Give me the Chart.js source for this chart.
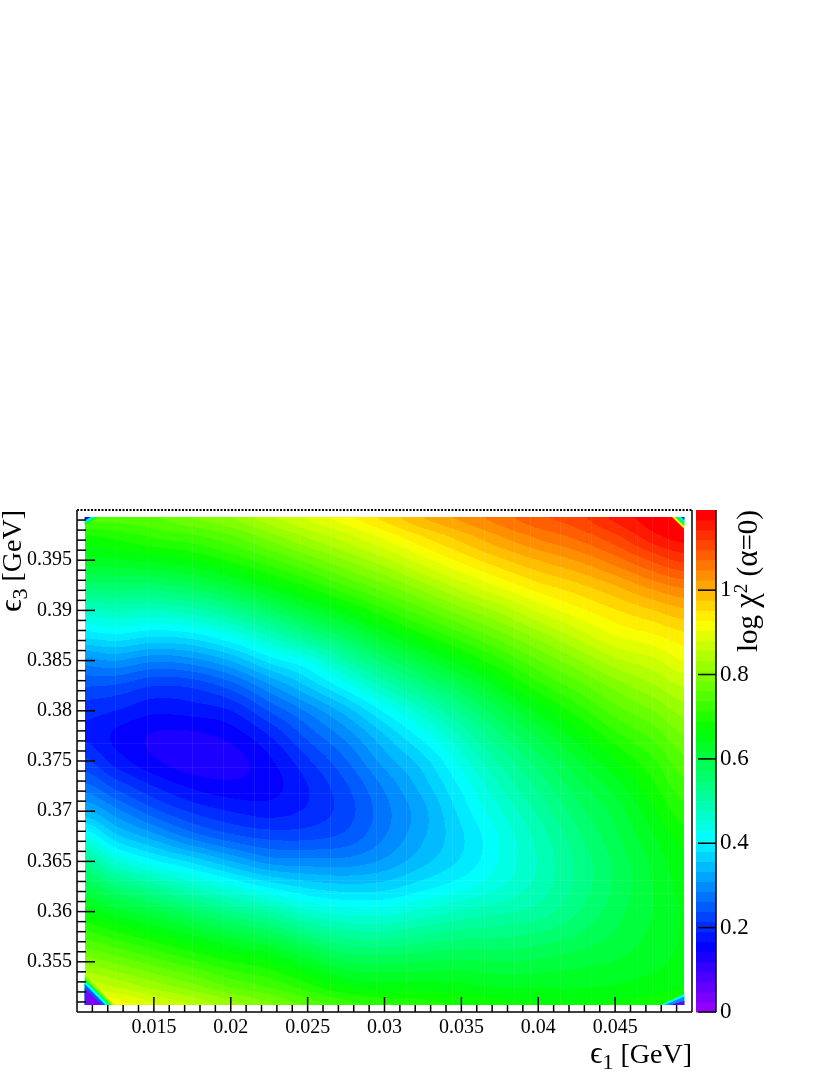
<!DOCTYPE html>
<html>
<head>
<meta charset="utf-8">
<title>log chi2 map</title>
<script src="https://cdn.jsdelivr.net/npm/chart.js@4"></script>
<style>
  html, body { margin: 0; padding: 0; background: #fff; }
  #box { width: 830px; height: 1075px; }
</style>
</head>
<body>
<div id="box"><canvas id="mapa"></canvas></div>
<script>
// Wezly siatki
const xGrid = [0.0105, 0.0125, 0.015, 0.0175, 0.02, 0.0225, 0.025, 0.0275, 0.03, 0.0325, 0.035, 0.0375, 0.04, 0.0425, 0.045, 0.0475, 0.0495];
const yGrid = [0.3993, 0.3975, 0.395, 0.3925, 0.39, 0.3875, 0.385, 0.3825, 0.38, 0.3775, 0.375, 0.3725, 0.37, 0.3675, 0.365, 0.3625, 0.36, 0.3575, 0.355, 0.3525, 0.3507];

// log chi2 - jedna lista na kolumne xGrid, od gory do dolu (yGrid)
const zColumns = [
  [.75,.69,.635,.56,.47,.39,.30,.24,.20,.187,.22,.27,.34,.43,.52,.59,.66,.73,.80,.88,.94],
  [.75,.70,.64,.565,.48,.40,.31,.235,.19,.162,.18,.23,.295,.365,.455,.55,.63,.705,.78,.855,.92],
  [.76,.72,.65,.565,.475,.385,.29,.215,.172,.14,.147,.19,.245,.32,.41,.51,.60,.675,.75,.825,.885],
  [.785,.735,.665,.585,.49,.395,.30,.22,.177,.137,.127,.162,.21,.275,.375,.47,.565,.645,.72,.795,.855],
  [.81,.76,.695,.615,.525,.43,.335,.25,.19,.152,.132,.15,.19,.245,.335,.435,.53,.615,.69,.76,.82],
  [.85,.80,.73,.655,.57,.48,.39,.305,.24,.19,.162,.157,.18,.23,.30,.40,.50,.59,.67,.735,.79],
  [.885,.84,.77,.695,.615,.53,.43,.36,.29,.245,.21,.19,.195,.23,.295,.375,.46,.55,.63,.70,.755],
  [.92,.875,.81,.74,.66,.58,.50,.42,.345,.295,.26,.235,.227,.245,.295,.365,.44,.52,.595,.665,.725],
  [.96,.915,.85,.78,.71,.635,.56,.485,.41,.355,.32,.29,.277,.285,.315,.37,.44,.515,.59,.655,.705],
  [1.0,.955,.895,.825,.755,.685,.61,.54,.47,.415,.37,.345,.326,.33,.35,.395,.46,.53,.595,.655,.70],
  [1.03,.99,.935,.87,.80,.73,.66,.59,.53,.48,.44,.41,.39,.377,.385,.42,.48,.54,.60,.65,.685],
  [1.06,1.025,.97,.91,.84,.775,.71,.65,.59,.545,.505,.475,.45,.43,.43,.45,.495,.545,.595,.64,.675],
  [1.09,1.055,1.0,.945,.885,.82,.76,.705,.65,.60,.56,.53,.505,.485,.478,.485,.51,.555,.60,.64,.67],
  [1.11,1.08,1.025,.97,.92,.865,.805,.75,.70,.655,.615,.585,.56,.54,.528,.53,.545,.575,.61,.64,.67],
  [1.15,1.115,1.06,1.0,.95,.905,.85,.795,.75,.705,.665,.63,.605,.59,.577,.575,.585,.60,.62,.645,.67],
  [1.18,1.16,1.10,1.035,.975,.925,.875,.83,.785,.745,.71,.685,.66,.64,.625,.62,.62,.625,.635,.655,.68],
  [1.19,1.18,1.125,1.055,.995,.945,.905,.86,.82,.785,.755,.73,.705,.68,.66,.65,.645,.645,.65,.665,.685]
];

// Narozniki siatki: [x, y, ramie x, ramie y, z] - od najwiekszego do najmniejszego
const cornerTriangles = [
  [0.0105, 0.3507, 0.00190, 0.00300, 0.80],
  [0.0105, 0.3507, 0.00170, 0.00265, 0.60],
  [0.0105, 0.3507, 0.00155, 0.00240, 0.42],
  [0.0105, 0.3507, 0.00135, 0.00210, 0.24],
  [0.0105, 0.3507, 0.00110, 0.00165, 0.03],
  [0.0495, 0.3507, -0.00155, 0.00110, 0.42],
  [0.0495, 0.3507, -0.00130, 0.00085, 0.30],
  [0.0495, 0.3507, -0.00095, 0.00040, 0.05],
  [0.0105, 0.3993, 0.00090, -0.00080, 0.62],
  [0.0105, 0.3993, 0.00065, -0.00060, 0.40],
  [0.0105, 0.3993, 0.00040, -0.00035, 0.18],
  [0.0495, 0.3993, -0.00080, -0.00120, 0.90],
  [0.0495, 0.3993, -0.00060, -0.00090, 0.60],
  [0.0495, 0.3993, -0.00040, -0.00060, 0.40],
  [0.0495, 0.3993, -0.00020, -0.00030, 0.18]
];

// Jasne szwy widoczne na mapie
const xSeams = [0.01247, 0.01455, 0.01747, 0.01948, 0.02149, 0.02247, 0.02442, 0.02643, 0.02942, 0.03143, 0.03442, 0.03649, 0.03844, 0.03948, 0.04143, 0.04344, 0.04643, 0.0474, 0.04844];
const ySeams = [0.37679, 0.3744, 0.37181, 0.36315, 0.36185, 0.36066];

// Podzialki
const xMajorTicks = [0.015, 0.02, 0.025, 0.03, 0.035, 0.04, 0.045];
const yMajorTicks = [0.355, 0.36, 0.365, 0.37, 0.375, 0.38, 0.385, 0.39, 0.395];
const zMajorTicks = [0, 0.2, 0.4, 0.6, 0.8, 1];
const xMinorStep = 0.001;
const yMinorStep = 0.001;

const X_MIN = 0.01, X_MAX = 0.05, Y_MIN = 0.35, Y_MAX = 0.4, Z_MAX = 1.19;
const PALETTE_LEVELS = 50;
const SERIF = '"Liberation Serif", "Times New Roman", serif';

// Paleta ROOT "pretty": 50 pasm od fioletu do czerwieni
function bandColor(z) {
  let i = Math.floor(z / Z_MAX * PALETTE_LEVELS);
  if (i < 0) i = 0;
  if (i > PALETTE_LEVELS - 1) i = PALETTE_LEVELS - 1;
  return 'hsl(' + (280 - (i + 1) * 5.6) + ', 100%, 50%)';
}

// Wagi Catmulla-Roma, zeby kontury nie mialy zalaman na wezlach
function splineWeights(t) {
  return [
    -0.5 * t + t * t - 0.5 * t * t * t,
    1 - 2.5 * t * t + 1.5 * t * t * t,
    0.5 * t + 2 * t * t - 1.5 * t * t * t,
    -0.5 * t * t + 0.5 * t * t * t
  ];
}

// Wartosc w punkcie (x, y) z szesnastu sasiednich wezlow
function sampleZ(x, y) {
  let c = 0, r = 0;
  while (c < xGrid.length - 2 && x > xGrid[c + 1]) c++;
  while (r < yGrid.length - 2 && y < yGrid[r + 1]) r++;
  const wu = splineWeights((x - xGrid[c]) / (xGrid[c + 1] - xGrid[c]));
  const wv = splineWeights((y - yGrid[r]) / (yGrid[r + 1] - yGrid[r]));
  let sum = 0;
  for (let i = 0; i < 4; i++) {
    const col = zColumns[Math.min(Math.max(c - 1 + i, 0), xGrid.length - 1)];
    for (let j = 0; j < 4; j++) {
      sum += wu[i] * wv[j] * col[Math.min(Math.max(r - 1 + j, 0), yGrid.length - 1)];
    }
  }
  return sum;
}

// Tekst z indeksem dolnym / gornym, pisany od (x, y)
function drawParts(ctx, parts, x, y, rotated, alignEnd) {
  ctx.save();
  ctx.translate(x, y);
  if (rotated) ctx.rotate(-Math.PI / 2);
  ctx.fillStyle = '#000';
  ctx.textAlign = 'left';
  ctx.textBaseline = 'alphabetic';
  let width = 0;
  parts.forEach(p => {
    ctx.font = p.size + 'px ' + SERIF;
    width += ctx.measureText(p.text).width;
  });
  let pos = alignEnd ? -width : 0;
  parts.forEach(p => {
    ctx.font = p.size + 'px ' + SERIF;
    ctx.fillText(p.text, pos, p.shift || 0);
    pos += ctx.measureText(p.text).width;
  });
  ctx.restore();
}

const xTitleParts = [{ text: 'ϵ', size: 31 }, { text: '1', size: 22, shift: 6 }, { text: ' [GeV]', size: 28 }];
const yTitleParts = [{ text: 'ϵ', size: 31 }, { text: '3', size: 22, shift: 6 }, { text: ' [GeV]', size: 28 }];
const zTitleParts = [
  { text: 'log ', size: 29 }, { text: 'χ', size: 33 }, { text: '2', size: 19, shift: -10 },
  { text: ' (', size: 29 }, { text: 'α', size: 31 }, { text: '=0)', size: 29 }
];

const mapPlugin = {
  id: 'mapPlugin',
  beforeDatasetsDraw(chart) {
    const { ctx, chartArea, scales } = chart;
    const sx = scales.x, sy = scales.y, sz = scales.z;
    ctx.save();

    // --- mapa: paski jednego koloru w kazdym wierszu pikseli ---
    const pxLeft = Math.round(sx.getPixelForValue(xGrid[0]));
    const pxRight = Math.round(sx.getPixelForValue(xGrid[xGrid.length - 1]));
    const pyTop = Math.round(sy.getPixelForValue(yGrid[0]));
    const pyBottom = Math.round(sy.getPixelForValue(yGrid[yGrid.length - 1]));
    for (let py = pyTop; py < pyBottom; py++) {
      const yVal = sy.getValueForPixel(py + 0.5);
      let start = pxLeft;
      let current = bandColor(sampleZ(sx.getValueForPixel(pxLeft + 0.5), yVal));
      for (let px = pxLeft + 1; px <= pxRight; px++) {
        const col = px < pxRight ? bandColor(sampleZ(sx.getValueForPixel(px + 0.5), yVal)) : null;
        if (col !== current) {
          ctx.fillStyle = current;
          ctx.fillRect(start, py, px - start, 1);
          start = px;
          current = col;
        }
      }
    }

    // narozniki
    cornerTriangles.forEach(t => {
      ctx.fillStyle = bandColor(t[4]);
      ctx.beginPath();
      ctx.moveTo(sx.getPixelForValue(t[0]), sy.getPixelForValue(t[1]));
      ctx.lineTo(sx.getPixelForValue(t[0] + t[2]), sy.getPixelForValue(t[1]));
      ctx.lineTo(sx.getPixelForValue(t[0]), sy.getPixelForValue(t[1] + t[3]));
      ctx.closePath();
      ctx.fill();
    });

    // szwy
    ctx.fillStyle = 'rgba(255,255,255,0.07)';
    xSeams.forEach(v => {
      ctx.fillRect(Math.round(sx.getPixelForValue(v)), pyTop, 1, pyBottom - pyTop);
    });
    ySeams.forEach(v => {
      ctx.fillRect(pxLeft, Math.round(sy.getPixelForValue(v)), pxRight - pxLeft, 1);
    });

    // --- skala kolorow ---
    const barLeft = 696, barRight = 716;
    for (let i = 0; i < PALETTE_LEVELS; i++) {
      const lo = Z_MAX * i / PALETTE_LEVELS, hi = Z_MAX * (i + 1) / PALETTE_LEVELS;
      const yLo = sz.getPixelForValue(lo), yHi = sz.getPixelForValue(hi);
      ctx.fillStyle = bandColor((lo + hi) / 2);
      ctx.fillRect(barLeft, yHi, barRight - barLeft, yLo - yHi + 0.5);
    }

    // --- ramki i kreski podzialek ---
    ctx.strokeStyle = '#000';
    ctx.lineWidth = 1.5;
    const line = (x1, y1, x2, y2) => {
      ctx.beginPath();
      ctx.moveTo(x1, y1);
      ctx.lineTo(x2, y2);
      ctx.stroke();
    };
    const L = chartArea.left, R = chartArea.right, T = chartArea.top, B = chartArea.bottom;
    line(L, T, L, B);
    line(L, B, R, B);
    line(R, T, R, B);
    // gorna krawedz wyglada jak drobne kropki
    ctx.setLineDash([2, 1.5]);
    ctx.lineWidth = 2;
    line(L, T, R, T);
    ctx.setLineDash([]);
    ctx.lineWidth = 1.5;

    for (let v = 0.011; v < X_MAX; v += xMinorStep) {
      const major = xMajorTicks.some(m => Math.abs(m - v) < 1e-6);
      const px = sx.getPixelForValue(v);
      line(px, B, px, B - (major ? 15 : 7));
    }
    for (let v = 0.351; v < Y_MAX; v += yMinorStep) {
      const major = yMajorTicks.some(m => Math.abs(m - v) < 1e-6);
      const py = sy.getPixelForValue(v);
      line(L, py, L + (major ? 18 : 9), py);
    }

    line(barRight, T, barRight, B);
    zMajorTicks.forEach(v => {
      const py = sz.getPixelForValue(v);
      line(barRight, py, barLeft + 2, py);
    });

    // --- tytuly osi ---
    drawParts(ctx, xTitleParts, R, 1063, false, true);
    drawParts(ctx, yTitleParts, 21, T, true, true);
    drawParts(ctx, zTitleParts, 757, T, true, true);
    ctx.restore();
  }
};

new Chart(document.getElementById('mapa'), {
  type: 'scatter',
  data: {
    datasets: [{
      label: 'log chi2',
      data: xGrid.flatMap((x, c) => yGrid.map((y, r) => ({ x: x, y: y, z: zColumns[c][r] }))),
      pointRadius: 0,
      pointHoverRadius: 0
    }]
  },
  options: {
    responsive: true,
    maintainAspectRatio: false,
    animation: false,
    layout: { padding: { left: 0, right: 0, top: 510, bottom: 0 } },
    plugins: { legend: { display: false }, tooltip: { enabled: false } },
    scales: {
      x: {
        type: 'linear',
        position: 'bottom',
        min: X_MIN,
        max: X_MAX,
        grid: { display: false, drawTicks: false },
        border: { display: false },
        afterBuildTicks: s => { s.ticks = xMajorTicks.map(v => ({ value: v })); },
        afterFit: s => { s.height = 63; },
        ticks: {
          autoSkip: false,
          maxRotation: 0,
          padding: 4,
          color: '#000',
          font: { family: SERIF, size: 20 },
          callback: v => String(v)
        }
      },
      y: {
        type: 'linear',
        position: 'left',
        min: Y_MIN,
        max: Y_MAX,
        grid: { display: false, drawTicks: false },
        border: { display: false },
        afterBuildTicks: s => { s.ticks = yMajorTicks.map(v => ({ value: v })); },
        afterFit: s => { s.width = 77; },
        ticks: {
          autoSkip: false,
          padding: 5,
          color: '#000',
          font: { family: SERIF, size: 20 },
          callback: v => String(v)
        }
      },
      z: {
        type: 'linear',
        position: 'right',
        min: 0,
        max: Z_MAX,
        grid: { display: false, drawTicks: false },
        border: { display: false },
        afterBuildTicks: s => { s.ticks = zMajorTicks.map(v => ({ value: v })); },
        afterFit: s => { s.width = 138; },
        ticks: {
          autoSkip: false,
          padding: 28,
          color: '#000',
          font: { family: SERIF, size: 23 },
          callback: v => String(v)
        }
      }
    }
  },
  plugins: [mapPlugin]
});
</script>
</body>
</html>
